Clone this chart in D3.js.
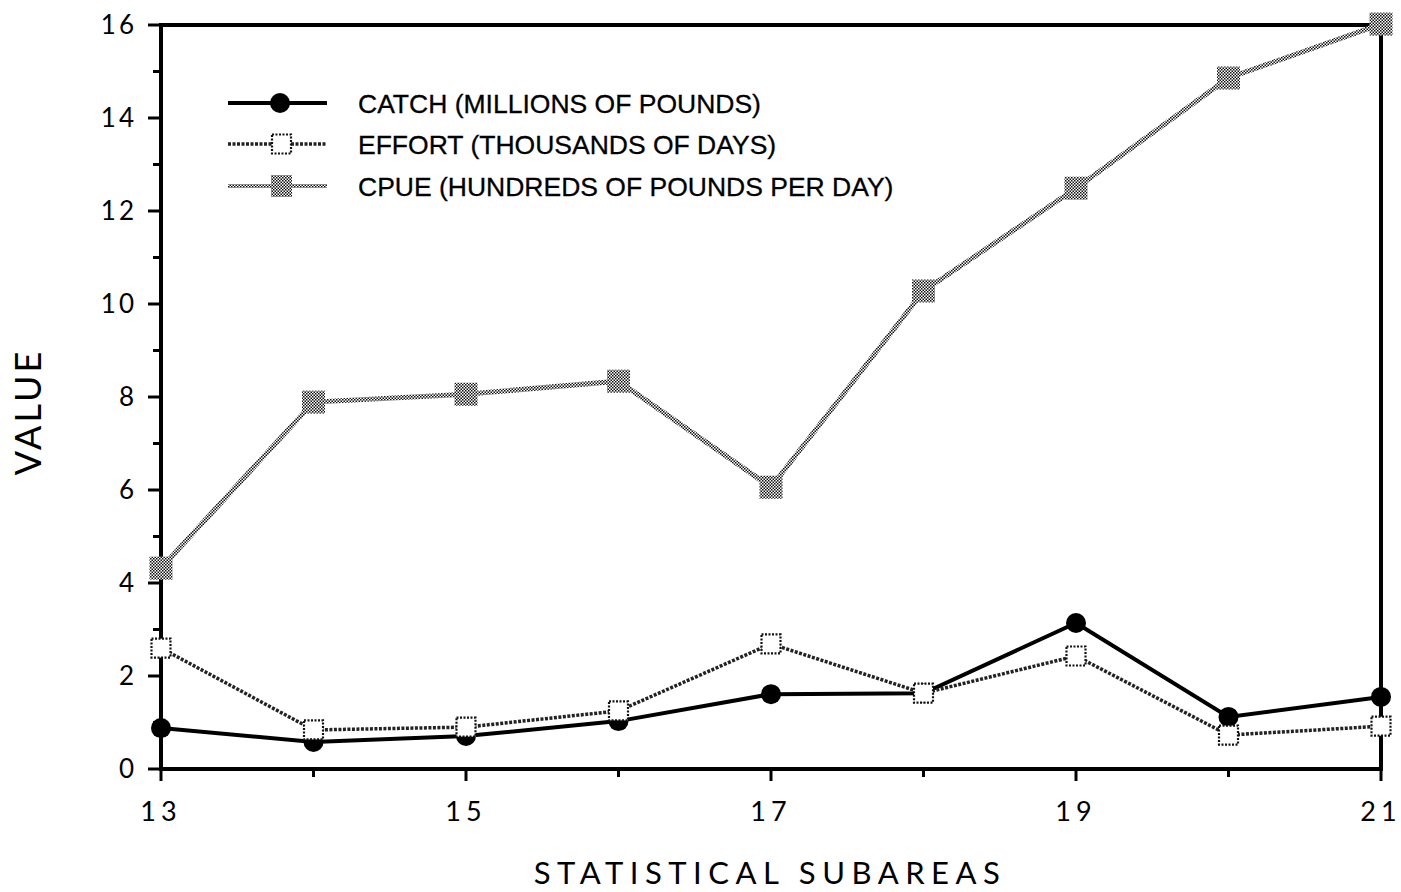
<!DOCTYPE html>
<html>
<head>
<meta charset="utf-8">
<script src="https://cdn.jsdelivr.net/npm/d3@7"></script>
<style>
  body { margin: 0; background: #fff; }
  .tick-label { font-family: Lato, "DejaVu Sans", sans-serif; font-weight: 400; fill: #000; }
  .legend-text { font-family: "Liberation Sans Narrow", "Arial Narrow", "Liberation Sans", sans-serif; font-size: 26.5px; fill: #000; stroke: #000; stroke-width: 0.3px; }
</style>
</head>
<body>
<svg id="chart" width="1401" height="892"></svg>
<script>
// subareas on the x axis
const subareas = [13, 14, 15, 16, 17, 18, 19, 20, 21];
// series values
const catchValues = [0.88, 0.58, 0.71, 1.03, 1.61, 1.63, 3.14, 1.12, 1.55];
const effortValues = [2.60, 0.84, 0.90, 1.25, 2.69, 1.63, 2.43, 0.73, 0.92];
const cpueValues = [4.32, 7.89, 8.06, 8.34, 6.06, 10.28, 12.49, 14.86, 16.02];
const seriesNames = ["CATCH (MILLIONS OF POUNDS)", "EFFORT (THOUSANDS OF DAYS)", "CPUE (HUNDREDS OF POUNDS PER DAY)"];
const xTickLabels = [13, 15, 17, 19, 21];
const yTickLabels = [0, 2, 4, 6, 8, 10, 12, 14, 16];

const svg = d3.select("#chart");
const plotLeft = 161, plotRight = 1381, plotTop = 25, plotBottom = 769;

let x = d3.scaleLinear().domain([13, 21]).range([plotLeft, plotRight]);
let y = d3.scaleLinear().domain([0, 16]).range([plotBottom, plotTop]);

// halftone patterns, the scan looks like dithered grey
const defs = svg.append("defs");
let checker = defs.append("pattern")
  .attr("id", "checker")
  .attr("width", 3).attr("height", 3)
  .attr("patternUnits", "userSpaceOnUse");
checker.append("rect").attr("width", 3).attr("height", 3).attr("fill", "#fff");
checker.append("rect").attr("width", 1.5).attr("height", 1.5).attr("fill", "#111");
checker.append("rect").attr("x", 1.5).attr("y", 1.5).attr("width", 1.5).attr("height", 1.5).attr("fill", "#111");

// frame
svg.append("rect")
  .attr("x", plotLeft).attr("y", plotTop)
  .attr("width", plotRight - plotLeft).attr("height", plotBottom - plotTop)
  .attr("fill", "none").attr("stroke", "#000").attr("stroke-width", 4);

// y axis ticks: long on even values, short on odd
let yMinor = d3.range(0, 17);
svg.append("g").selectAll("line")
  .data(yMinor).enter().append("line")
  .attr("x1", d => d % 2 === 0 ? plotLeft - 13 : plotLeft - 8)
  .attr("x2", plotLeft)
  .attr("y1", d => y(d)).attr("y2", d => y(d))
  .attr("stroke", "#000").attr("stroke-width", 3);
svg.append("g").selectAll("text")
  .data(yTickLabels).enter().append("text")
  .attr("class", "tick-label")
  .attr("x", 137)
  .attr("y", d => y(d) + 9)
  .attr("text-anchor", "end")
  .style("font-size", "26px")
  .style("letter-spacing", "3px")
  .text(d => d);

// x axis ticks
svg.append("g").selectAll("line")
  .data(subareas).enter().append("line")
  .attr("x1", d => x(d)).attr("x2", d => x(d))
  .attr("y1", plotBottom)
  .attr("y2", d => d % 2 === 1 ? plotBottom + 12 : plotBottom + 8)
  .attr("stroke", "#000").attr("stroke-width", 3);
svg.append("g").selectAll("text")
  .data(xTickLabels).enter().append("text")
  .attr("class", "tick-label")
  .attr("x", d => x(d))
  .attr("y", 821)
  .attr("text-anchor", "middle")
  .style("font-size", "27px")
  .style("letter-spacing", "5px")
  .text(d => d);

// axis titles
svg.append("text")
  .attr("class", "tick-label")
  .attr("x", 770).attr("y", 884)
  .attr("text-anchor", "middle")
  .style("font-size", "31px")
  .style("letter-spacing", "6.5px")
  .text("STATISTICAL SUBAREAS");
svg.append("text")
  .attr("class", "tick-label")
  .attr("transform", "translate(41,412) rotate(-90)")
  .attr("text-anchor", "middle")
  .style("font-size", "36px")
  .style("letter-spacing", "3px")
  .text("VALUE");

let line = d3.line()
  .x((d, i) => x(subareas[i]))
  .y(d => y(d));

// CPUE
svg.append("path")
  .datum(cpueValues)
  .attr("d", line)
  .attr("fill", "none")
  .attr("stroke", "url(#checker)")
  .attr("stroke-width", 5);
svg.append("g").selectAll("rect")
  .data(cpueValues).enter().append("rect")
  .attr("x", (d, i) => x(subareas[i]) - 11.5)
  .attr("y", d => y(d) - 11.5)
  .attr("width", 23).attr("height", 23)
  .attr("fill", "url(#checker)");

// CATCH
svg.append("path")
  .datum(catchValues)
  .attr("d", line)
  .attr("fill", "none")
  .attr("stroke", "#000")
  .attr("stroke-width", 4);
svg.append("g").selectAll("circle")
  .data(catchValues).enter().append("circle")
  .attr("cx", (d, i) => x(subareas[i]))
  .attr("cy", d => y(d))
  .attr("r", 10)
  .attr("fill", "#000");

// EFFORT
svg.append("path")
  .datum(effortValues)
  .attr("d", line)
  .attr("fill", "none")
  .attr("stroke", "#222")
  .attr("stroke-width", 3.5)
  .attr("stroke-dasharray", "3,1.5");
svg.append("g").selectAll("rect")
  .data(effortValues).enter().append("rect")
  .attr("x", (d, i) => x(subareas[i]) - 9.5)
  .attr("y", d => y(d) - 9.5)
  .attr("width", 19).attr("height", 19)
  .attr("fill", "#fff")
  .attr("stroke", "#111")
  .attr("stroke-width", 2.2)
  .attr("stroke-dasharray", "2,1.5");

// legend
let legendY = [103, 144, 186];
let legend = svg.append("g");
// catch entry
legend.append("line").attr("x1", 228).attr("x2", 327).attr("y1", legendY[0]).attr("y2", legendY[0])
  .attr("stroke", "#000").attr("stroke-width", 4);
legend.append("circle").attr("cx", 280).attr("cy", legendY[0]).attr("r", 10).attr("fill", "#000");
// effort entry
legend.append("line").attr("x1", 228).attr("x2", 327).attr("y1", legendY[1]).attr("y2", legendY[1])
  .attr("stroke", "#222").attr("stroke-width", 3.5).attr("stroke-dasharray", "3,1.5");
legend.append("rect").attr("x", 272).attr("y", legendY[1] - 9.5).attr("width", 19).attr("height", 19)
  .attr("fill", "#fff").attr("stroke", "#111").attr("stroke-width", 2.2).attr("stroke-dasharray", "2,1.5");
// cpue entry
legend.append("line").attr("x1", 228).attr("x2", 327).attr("y1", legendY[2]).attr("y2", legendY[2])
  .attr("stroke", "url(#checker)").attr("stroke-width", 4);
legend.append("rect").attr("x", 271).attr("y", legendY[2] - 11).attr("width", 21).attr("height", 22)
  .attr("fill", "url(#checker)");

legend.selectAll("text")
  .data(seriesNames).enter().append("text")
  .attr("class", "legend-text")
  .attr("x", 358)
  .attr("y", (d, i) => legendY[i] + 9.5)
  .text(d => d);
</script>
</body>
</html>
